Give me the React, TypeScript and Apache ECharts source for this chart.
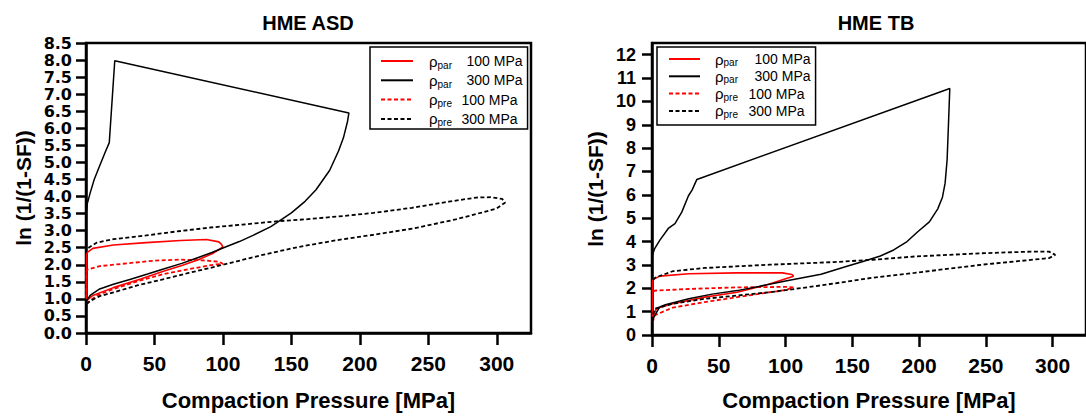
import React, { useEffect, useRef } from 'react';
import * as echarts from 'echarts';

// ---------- tick labels ----------
const xTicks = [0, 50, 100, 150, 200, 250, 300];
const yTicksASD = [0, 0.5, 1, 1.5, 2, 2.5, 3, 3.5, 4, 4.5, 5, 5.5, 6, 6.5, 7, 7.5, 8, 8.5];
const yTicksTB = [0, 1, 2, 3, 4, 5, 6, 7, 8, 9, 10, 11, 12];

// ---------- legend ----------
const seriesNames = ['ρpar 100 MPa', 'ρpar 300 MPa', 'ρpre 100 MPa', 'ρpre 300 MPa'];
const legendSub = ['par', 'par', 'pre', 'pre'];
const legendLabel = ['100 MPa', '300 MPa', '100 MPa', '300 MPa'];

// ---------- HME ASD (left) ----------
const asdPar100: [number, number][] = [
  [0.3, 0.85], [1, 0.97], [5, 1.1], [20, 1.33], [40, 1.58], [56, 1.8], [70, 1.98], [82, 2.15], [93, 2.34], [100, 2.52],
  [99, 2.6], [97, 2.67], [88, 2.74], [69, 2.71], [44, 2.65], [20, 2.58], [5, 2.48], [1, 2.36], [0.4, 2.3], [0.3, 1.0],
];
const asdPar300: [number, number][] = [
  [0.2, 0.85], [0.5, 0.95], [3, 1.1], [10, 1.29], [20, 1.43], [32, 1.57], [45, 1.73], [56, 1.87], [70, 2.04], [81, 2.2],
  [92, 2.36], [100, 2.49], [112, 2.68], [122, 2.86], [135, 3.12], [150, 3.52], [160, 3.86], [168, 4.2], [178, 4.77],
  [184.5, 5.34], [188, 5.72], [191, 6.2], [192, 6.45],
  [21, 7.98],
  [17, 5.58], [14, 5.3], [10, 4.9], [6, 4.5], [3, 4.1], [1, 3.8], [0.2, 3.55],
];
const asdPre100: [number, number][] = [
  [0.5, 0.85], [2, 0.92], [8, 1.1], [20, 1.29], [38, 1.52], [56, 1.72], [75, 1.87], [93, 2.0], [100, 2.03],
  [97, 2.09], [85, 2.13], [68, 2.15], [50, 2.12], [32, 2.05], [10, 1.96], [1, 1.86], [0.3, 1.8], [0.3, 1.0],
];
const asdPre300: [number, number][] = [
  [0.5, 0.85], [3, 0.94], [10, 1.08], [20, 1.19], [38, 1.4], [56, 1.57], [75, 1.76], [93, 1.93], [110, 2.1], [129, 2.29],
  [155, 2.52], [183, 2.72], [210, 2.88], [240, 3.07], [270, 3.33], [289, 3.53], [300, 3.65], [306, 3.82],
  [304, 3.93], [296, 3.98], [285, 3.97], [265, 3.85], [238, 3.67], [210, 3.52], [188, 3.43], [160, 3.33], [141, 3.28],
  [115, 3.18], [93, 3.1], [65, 2.97], [44, 2.86], [20, 2.75], [8, 2.65], [3, 2.53], [0.5, 2.45],
];

// ---------- HME TB (right) ----------
const tbPar100: [number, number][] = [
  [0.3, 0.6], [1, 0.85], [3.4, 1.13], [15.5, 1.34], [39.6, 1.62], [63.8, 1.83], [88, 2.18], [102.4, 2.45], [106, 2.52],
  [104.8, 2.59], [97.6, 2.66], [63.8, 2.66], [27.5, 2.62], [5.8, 2.52], [1, 2.38], [0.4, 2.3], [0.3, 0.8],
];
const tbPar300: [number, number][] = [
  [0.3, 0.55], [0.5, 0.64], [2, 0.83], [5.8, 1.2], [10, 1.3], [27.5, 1.55], [45, 1.75], [63.8, 1.9], [80, 2.08],
  [100, 2.31], [126.6, 2.6], [146, 2.94], [158, 3.15], [171, 3.38], [181, 3.64], [191, 4.0], [199, 4.42], [207.7, 4.84],
  [214, 5.4], [217.5, 5.9], [219.5, 6.5], [221, 7.5], [222, 9.0], [223, 10.55],
  [33.6, 6.66],
  [30, 6.2], [27.3, 5.96], [22.3, 5.26], [17.2, 4.77], [12.2, 4.56], [5.9, 4.06], [2, 3.7], [0.4, 3.43],
];
const tbPre100: [number, number][] = [
  [0.3, 0.55], [1, 0.64], [2.2, 0.85], [15.5, 1.17], [39.6, 1.41], [63.8, 1.62], [88, 1.83], [100, 1.92], [106, 2.04],
  [100, 2.06], [63.8, 2.04], [27.5, 1.97], [2.2, 1.9], [0.3, 1.85],
];
const tbPre300: [number, number][] = [
  [0.5, 0.6], [1, 0.92], [2.2, 1.13], [15.5, 1.34], [39.6, 1.55], [63.8, 1.69], [88, 1.83], [107, 1.97], [136, 2.2],
  [165, 2.45], [196.5, 2.66], [247, 3.01], [297.3, 3.29], [302, 3.43],
  [297.3, 3.57], [284.7, 3.57], [247, 3.5], [196.5, 3.36], [165, 3.22], [136, 3.12], [88, 3.01], [39.6, 2.87],
  [15.5, 2.73], [2.2, 2.45], [0.5, 2.35],
];

const FONT = '"Liberation Sans", Arial, sans-serif';
const FONT_WIDE = '"DejaVu Sans", sans-serif';
const RED = '#ff0000';
const BLACK = '#000000';

const styles = [
  { color: RED, width: 1.6, type: 'solid' as any },
  { color: BLACK, width: 1.5, type: 'solid' as any },
  { color: RED, width: 1.8, type: [4, 2.5] as any },
  { color: BLACK, width: 1.8, type: [4, 2.5] as any },
];

function makeSeries(data: [number, number][], idx: number, gridIdx: number) {
  const s = styles[idx];
  return {
    type: 'line',
    name: seriesNames[idx],
    xAxisIndex: gridIdx,
    yAxisIndex: gridIdx,
    data,
    symbol: 'none',
    showSymbol: false,
    smooth: false,
    lineStyle: { color: s.color, width: s.width, type: s.type },
    itemStyle: { color: s.color },
    z: idx === 1 ? 4 : 3,
  };
}

function makeLegend(left: number, top: number, padding: number[], itemWidth: number, lineH: number, gap: number,
  prefix: number, parW: number, preW: number, fontSize: number) {
  return {
    orient: 'vertical',
    left,
    top,
    padding,
    itemWidth,
    itemHeight: 12,
    itemGap: gap,
    borderColor: BLACK,
    borderWidth: 1.5,
    backgroundColor: '#fff',
    itemStyle: { opacity: 0 },
    lineStyle: { width: 2 },
    data: seriesNames,
    formatter: (name: string) => {
      const i = seriesNames.indexOf(name);
      const sub = legendSub[i];
      return `{r|ρ}{${sub === 'par' ? 'sa' : 'sb'}|${sub}}{t|${legendLabel[i]}}`;
    },
    textStyle: {
      fontFamily: FONT,
      fontSize,
      color: BLACK,
      lineHeight: lineH,
      rich: {
        r: { fontFamily: FONT, fontSize: fontSize + 1, color: BLACK, lineHeight: lineH, padding: [0, 0, 0, prefix] },
        sa: { fontFamily: FONT, fontSize: 10, color: BLACK, lineHeight: 10, verticalAlign: 'bottom', width: parW },
        sb: { fontFamily: FONT, fontSize: 10, color: BLACK, lineHeight: 10, verticalAlign: 'bottom', width: preW },
        t: { fontFamily: FONT, fontSize, color: BLACK, lineHeight: lineH },
      },
    },
  };
}

const axisLineStyle = { color: BLACK, width: 2.5 };

function makeXAxis(gridIdx: number, nameGap: number) {
  return {
    type: 'value',
    gridIndex: gridIdx,
    min: 0,
    max: 325,
    axisLine: { show: true, onZero: false, lineStyle: axisLineStyle },
    axisTick: { show: true, inside: false, length: 12, lineStyle: axisLineStyle, customValues: xTicks },
    axisLabel: {
      customValues: xTicks,
      margin: 20,
      fontFamily: FONT,
      fontWeight: 'bold',
      fontSize: 21,
      color: BLACK,
    },
    splitLine: { show: false },
    name: 'Compaction Pressure [MPa]',
    nameLocation: 'middle',
    nameGap,
    nameTextStyle: { fontFamily: FONT, fontWeight: 'bold', fontSize: 22, color: BLACK },
  };
}

function makeYAxis(gridIdx: number, max: number, ticks: number[], decimals: number, labelFont: string,
  labelSize: number, margin: number, nameGap: number) {
  return {
    type: 'value',
    gridIndex: gridIdx,
    min: 0,
    max,
    axisLine: { show: true, onZero: false, lineStyle: axisLineStyle },
    axisTick: { show: true, inside: false, length: 10, lineStyle: axisLineStyle, customValues: ticks },
    axisLabel: {
      customValues: ticks,
      margin,
      fontFamily: labelFont,
      fontWeight: 'bold',
      fontSize: labelSize,
      color: BLACK,
      formatter: (v: number) => v.toFixed(decimals),
    },
    splitLine: { show: false },
    name: 'ln (1/(1-SF))',
    nameLocation: 'middle',
    nameRotate: 90,
    nameGap,
    nameTextStyle: { fontFamily: FONT, fontWeight: 'bold', fontSize: 21, color: BLACK },
  };
}

export default function App() {
  const ref = useRef<HTMLDivElement>(null);
  useEffect(() => {
    if (!ref.current) return;
    const chart = echarts.init(ref.current, undefined, { renderer: 'svg' });
    const option: any = {
      animation: false,
      backgroundColor: '#fff',
      title: [
        {
          text: 'HME ASD', left: 308, top: 13, textAlign: 'center', padding: 0,
          textStyle: { fontFamily: FONT, fontWeight: 'bold', fontSize: 20, color: BLACK },
        },
        {
          text: 'HME TB', left: 876, top: 13, textAlign: 'center', padding: 0,
          textStyle: { fontFamily: FONT, fontWeight: 'bold', fontSize: 20, color: BLACK },
        },
      ],
      grid: [
        { left: 86, top: 43, width: 445, height: 297, show: true, borderColor: BLACK, borderWidth: 2.5, backgroundColor: 'transparent', containLabel: false },
        { left: 652, top: 43, width: 448, height: 299, show: true, borderColor: BLACK, borderWidth: 2.5, backgroundColor: 'transparent', containLabel: false },
      ],
      xAxis: [makeXAxis(0, 56), makeXAxis(1, 54)],
      yAxis: [
        makeYAxis(0, 8.5, yTicksASD, 1, FONT_WIDE, 16, 14, 52),
        makeYAxis(1, 12.5, yTicksTB, 0, FONT, 18, 16, 46),
      ],
      legend: [
        makeLegend(370, 47, [5, 5, 1, 10], 32, 18, 1.3, 11, 29, 24, 14),
        makeLegend(657, 47, [3.5, 5, 5.6, 11], 31, 17, 0.3, 10, 31, 25, 14),
      ],
      series: [
        makeSeries(asdPar100, 0, 0),
        makeSeries(asdPar300, 1, 0),
        makeSeries(asdPre100, 2, 0),
        makeSeries(asdPre300, 3, 0),
        makeSeries(tbPar100, 0, 1),
        makeSeries(tbPar300, 1, 1),
        makeSeries(tbPre100, 2, 1),
        makeSeries(tbPre300, 3, 1),
      ],
    };
    chart.setOption(option);
    return () => chart.dispose();
  }, []);
  return (
    <div
      ref={ref}
      style={{ position: 'fixed', left: 0, top: 0, width: 1086, height: 416, background: '#fff' }}
    />
  );
}
